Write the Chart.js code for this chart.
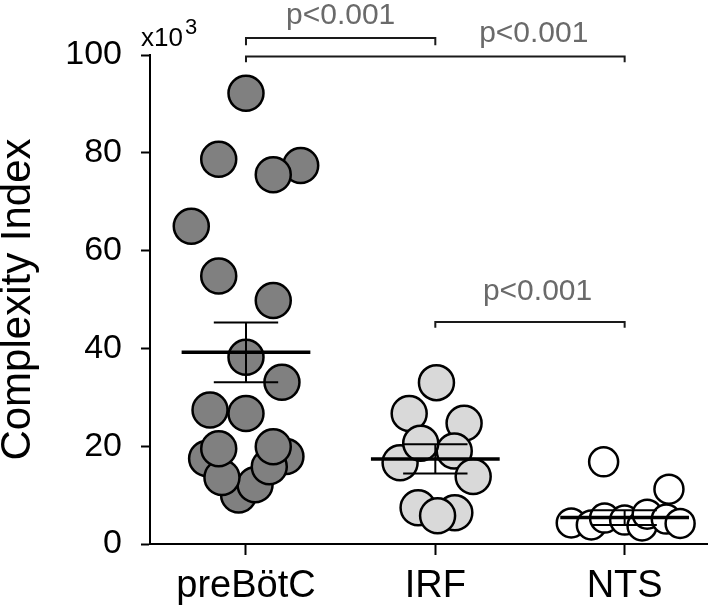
<!DOCTYPE html>
<html>
<head>
<meta charset="utf-8">
<script src="https://cdn.jsdelivr.net/npm/chart.js@4.4.1/dist/chart.umd.min.js"></script>
<style>
  html, body { margin: 0; padding: 0; background: #fff; }
  #wrap { width: 709px; height: 614px; }
</style>
</head>
<body>
<div id="wrap"><canvas id="chart"></canvas></div>
<script>
const categories = ['preBötC', 'IRF', 'NTS'];
const yTicks = [0, 20, 40, 60, 80, 100];

// per-group jitter (offset from category centre) and values (x10^3)
const preJitter = [0, -0.144, 0.289, 0.144, -0.289, -0.144, 0.144, 0, 0.19, -0.19, 0, -0.208, -0.039, 0.048, -0.127, -0.144, 0.211, 0.123, 0.144];
const preValues = [92.2, 78.7, 77.4, 75.5, 65.0, 54.8, 49.8, 38.2, 33.1, 27.4, 26.7, 17.5, 10.0, 12.1, 13.6, 19.5, 17.9, 15.8, 19.9];
const irfJitter = [0.006, -0.138, 0.152, -0.186, 0.1, -0.077, 0.2, -0.091, 0.103, 0.012];
const irfValues = [33.0, 26.7, 24.7, 16.6, 19.0, 20.6, 13.8, 7.4, 6.4, 5.8];
const ntsJitter = [-0.111, 0.234, -0.282, -0.176, -0.106, 0, 0.092, 0.119, 0.22, 0.293];
const ntsValues = [16.8, 11.2, 4.3, 3.9, 5.3, 4.9, 3.7, 6.1, 5.1, 4.2];

const means = [39.2, 17.4, 5.4];
const sems = [6.1, 3.0, 1.5];

// significance brackets: [from category, to category, bar value, leg end value]
const brackets = [[0, 1, 103.5, 102.0], [0, 2, 99.7, 98.5], [1, 2, 45.4, 44.2]];
const pLabels = [[0.5, 106.4, 'p<0.001'], [1.52, 102.6, 'p<0.001'], [1.54, 50.0, 'p<0.001']];

const FONT = "'Liberation Sans', Arial, Helvetica, sans-serif";

function pointsFor(cat, jitter, values) {
  return values.map((v, i) => ({ x: cat + jitter[i], y: v }));
}

const groups = [
  { jitter: preJitter, values: preValues, fill: '#808080', r: 17.5 },
  { jitter: irfJitter, values: irfValues, fill: '#d9d9d9', r: 17.5 },
  { jitter: ntsJitter, values: ntsValues, fill: '#ffffff', r: 14.5 }
];

const datasets = [];
groups.forEach((g, c) => {
  datasets.push({
    type: 'scatter',
    data: pointsFor(c, g.jitter, g.values),
    backgroundColor: g.fill,
    borderColor: '#000',
    borderWidth: 2.5,
    pointRadius: g.r,
    pointHoverRadius: g.r,
    order: 2
  });
});

// mean and SEM lines
means.forEach((m, c) => {
  const s = sems[c];
  const seg = (pts, w) => datasets.push({
    type: 'line', data: pts, borderColor: '#000', borderWidth: w,
    pointRadius: 0, fill: false, order: 1
  });
  seg([{ x: c - 0.34, y: m }, { x: c + 0.34, y: m }], 3.5);
  seg([{ x: c - 0.17, y: m + s }, { x: c + 0.17, y: m + s }], 2);
  seg([{ x: c - 0.17, y: m - s }, { x: c + 0.17, y: m - s }], 2);
  seg([{ x: c, y: m - s }, { x: c, y: m + s }], 2);
});

const annotations = {
  id: 'annotations',
  afterDraw(chart) {
    const { ctx, scales: { x, y } } = chart;
    ctx.save();
    ctx.strokeStyle = '#1a1a1a';
    ctx.lineWidth = 2;
    brackets.forEach(([a, b, v, leg]) => {
      const x1 = x.getPixelForValue(a), x2 = x.getPixelForValue(b);
      const yb = y.getPixelForValue(v), yl = y.getPixelForValue(leg);
      ctx.beginPath();
      ctx.moveTo(x1, yl); ctx.lineTo(x1, yb); ctx.lineTo(x2, yb); ctx.lineTo(x2, yl);
      ctx.stroke();
    });
    ctx.fillStyle = '#6a6a6a';
    ctx.font = '30px ' + FONT;
    ctx.textAlign = 'center';
    ctx.textBaseline = 'alphabetic';
    pLabels.forEach(([px, py, t]) => {
      ctx.fillText(t, x.getPixelForValue(px), y.getPixelForValue(py));
    });
    // x10^3 multiplier
    ctx.fillStyle = '#000';
    ctx.textAlign = 'left';
    ctx.font = '26px ' + FONT;
    ctx.fillText('x10', 141, 46);
    ctx.font = '22px ' + FONT;
    ctx.fillText('3', 185, 34);
    ctx.restore();
  }
};

new Chart(document.getElementById('chart').getContext('2d'), {
  type: 'scatter',
  data: { datasets },
  options: {
    responsive: true,
    maintainAspectRatio: false,
    animation: false,
    layout: { autoPadding: false, padding: { top: 55, right: 2, left: 0, bottom: 0 } },
    plugins: { legend: { display: false }, tooltip: { enabled: false } },
    scales: {
      x: {
        type: 'linear',
        min: -0.507,
        max: 2.435,
        afterBuildTicks: s => { s.ticks = categories.map((_, i) => ({ value: i })); },
        afterFit: s => { s.height = 70; s.paddingLeft = 0; s.paddingRight = 0; },
        ticks: {
          padding: 9,
          color: '#000',
          font: { family: FONT, size: 38 },
          callback: v => categories[v]
        },
        grid: { drawOnChartArea: false, tickLength: 11, tickWidth: 2, tickColor: '#000' },
        border: { display: true, color: '#000', width: 2 }
      },
      y: {
        min: 0,
        max: 100,
        afterBuildTicks: s => { s.ticks = yTicks.map(v => ({ value: v })); },
        afterFit: s => { s.width = 150; s.paddingTop = 0; s.paddingBottom = 0; },
        ticks: { padding: 19, color: '#000', font: { family: FONT, size: 34 } },
        grid: { drawOnChartArea: false, tickLength: 9, tickWidth: 2, tickColor: '#000' },
        border: { display: true, color: '#000', width: 2 },
        title: {
          display: true,
          text: 'Complexity Index',
          color: '#000',
          padding: 0,
          font: { family: FONT, size: 42, lineHeight: 0.86 }
        }
      }
    }
  },
  plugins: [annotations]
});
</script>
</body>
</html>
